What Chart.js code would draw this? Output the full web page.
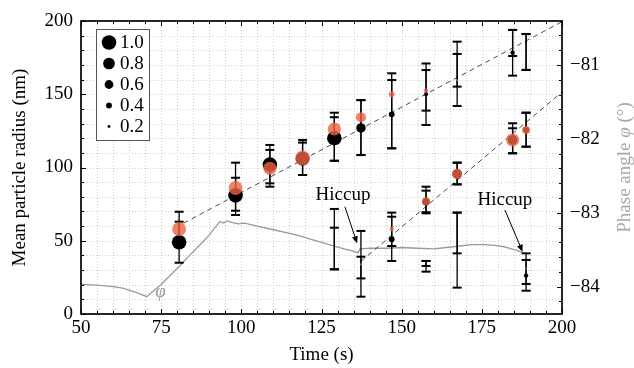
<!DOCTYPE html>
<html><head><meta charset="utf-8">
<script src="https://cdn.jsdelivr.net/npm/chart.js@4"></script>
<style>html,body{margin:0;padding:0;background:#fff}#wrap{width:634px;height:368px;position:relative}</style>
</head><body><div id="wrap"><canvas id="c"></canvas></div>
<script>
// ---------------- data ----------------
const xTickLabels = [50, 75, 100, 125, 150, 175, 200];
const yTickLabels = [0, 50, 100, 150, 200];
const phaseTickLabels = [-84, -83, -82, -81];

const timeBlack   = [80.6, 98.2, 108.9, 119.1, 129, 137.3, 146.9, 157.6, 167.3, 184.6, 188.8, 129, 137.3, 146.9, 157.6, 157.6, 167.3, 167.3, 184.6, 188.8, 188.8];
const radiusBlack = [49, 81, 102, 106, 120, 127, 136.3, 150, 165, 178.4, 186, 50, 25, 51, 76.7, 32, 95.6, 40, 118.8, 125.6, 26.2];
const weightBlack = [1.0, 1.0, 1.0, 0.95, 1.0, 0.65, 0.4, 0.28, 0, 0.3, 0.15, 0, 0, 0.4, 0.5, 0, 0.65, 0, 0.65, 0.4, 0.3];
const lowBlack    = [35, 67.6, 89.2, 94.9, 104.6, 108.5, 113.1, 138.8, 155.2, 162.7, 166.6, 30.5, 11.8, 36.2, 68.7, 28.9, 88.5, 18, 109.7, 114.2, 15.9];
const highBlack   = [63, 93, 115.4, 117, 134.3, 146, 159.7, 166.5, 185.9, 193.9, 191.1, 71.7, 39.1, 66.4, 84.2, 36.2, 103.3, 69.2, 126.8, 137.4, 36.9];

const timeOrange   = [80.6, 98.2, 108.9, 119.1, 129, 137.3, 146.9, 157.6, 167.3, 184.6, 188.8, 129, 137.3, 146.9, 157.6, 157.6, 167.3, 167.3, 184.6, 188.8, 188.8];
const radiusOrange = [58, 86, 99.5, 106.5, 126.3, 134.3, 150, 152.5, 159.7, 185, 186, 45, 33.9, 58, 77, 34, 95.6, 55, 118.8, 125.6, 31];
const weightOrange = [0.95, 0.95, 0.9, 1.0, 0.9, 0.7, 0.4, 0.3, 0.15, 0, 0, 0, 0.15, 0.3, 0.55, 0, 0.7, 0, 0.9, 0.55, 0.12];
const lowOrange    = [46, 70.5, 86.9, 94.9, 104.6, 108.5, 113.1, 129, 142, 176.1, 166.6, 30.5, 24.3, 46.4, 69.5, 32.8, 88.5, 41.4, 109.7, 114.2, 20.5];
const highOrange   = [69.8, 103.3, 112, 118.8, 137.4, 146, 164.3, 171, 177.5, 193.9, 191.1, 58.9, 56.7, 69.2, 86.9, 36.2, 103.3, 69.2, 130.2, 137.4, 41.4];

const fitUpperTime = [82, 200];
const fitUpperRadius = [62, 199.5];
const fitLowerTime = [137.3, 200];
const fitLowerRadius = [36, 151.5];

const phaseTime  = [50, 55, 60, 63, 66, 68, 70.5, 72, 75, 78, 81, 84, 87, 90, 92, 93.3, 94.5, 95.5, 97, 99, 101, 103, 106, 110, 114, 118, 121, 125, 129, 132, 134, 136.4, 137, 140, 145, 150, 155, 160, 164, 168, 172, 176, 179, 182, 185, 188];
const phaseAngle = [-83.97, -83.98, -84.00, -84.02, -84.06, -84.09, -84.135, -84.08, -83.97, -83.84, -83.71, -83.57, -83.44, -83.30, -83.19, -83.12, -83.14, -83.11, -83.13, -83.15, -83.14, -83.16, -83.19, -83.23, -83.27, -83.31, -83.35, -83.40, -83.45, -83.49, -83.51, -83.54, -83.49, -83.48, -83.48, -83.47, -83.48, -83.49, -83.47, -83.45, -83.43, -83.43, -83.44, -83.46, -83.50, -83.54];

const legendWeights = [1.0, 0.8, 0.6, 0.4, 0.2];
const legendLabels = ['1.0', '0.8', '0.6', '0.4', '0.2'];

const hiccupNotes = [
  {text: 'Hiccup', tx: 131.7, ty: 81.2, fx: 132.3, fy: 73.2, ax: 136.1, ay: 48.3},
  {text: 'Hiccup', tx: 182.2, ty: 77.8, fx: 182.2, fy: 71.0, ax: 187.7, ay: 42.5}
];
const phiLabel = {text: '\u03C6', t: 74.8, r: 15.2};

// ---------------- style ----------------
const SERIF = "'Liberation Serif', 'Times New Roman', serif";
const FS = 19;
const ORANGE = 'rgba(238, 98, 68, 0.8)';
const GRAY = '#9a9a9a';
const SIZE_SCALE = 7.3;

function points(ts, rs) { return ts.map((t, i) => ({x: t, y: rs[i]})); }
function bars(ts, lo, hi) {
  const out = [];
  ts.forEach((t, i) => { out.push({x: t, y: lo[i]}, {x: t, y: hi[i]}, {x: t, y: null}); });
  return out;
}
function errDataset(ts, lo, hi, order) {
  return {
    type: 'line', data: bars(ts, lo, hi), yAxisID: 'y',
    borderColor: '#000', borderWidth: 1.3, spanGaps: false,
    pointStyle: 'line', pointRadius: 4.5, pointBorderWidth: 2, pointBorderColor: '#000',
    pointHoverRadius: 4.5, order
  };
}

const overlay = {
  id: 'overlay',
  beforeDatasetsDraw(chart) {
    const {ctx, chartArea: a, scales: {x, y}} = chart;
    ctx.save();
    ctx.strokeStyle = '#cfcfcf';
    ctx.lineWidth = 1;
    ctx.setLineDash([1, 2]);
    ctx.beginPath();
    for (let v = x.min + 5; v < x.max; v += 5) {
      const p = Math.round(x.getPixelForValue(v)) + 0.5;
      ctx.moveTo(p, a.top); ctx.lineTo(p, a.bottom);
    }
    for (let v = y.min + 10; v < y.max; v += 10) {
      const p = Math.round(y.getPixelForValue(v)) + 0.5;
      ctx.moveTo(a.left, p); ctx.lineTo(a.right, p);
    }
    ctx.stroke();
    ctx.restore();
  },
  afterDatasetsDraw(chart) {
    const {ctx, chartArea: a, scales: {x, y, y2}} = chart;
    ctx.save();
    // inward ticks
    ctx.strokeStyle = '#000';
    ctx.lineWidth = 1;
    ctx.beginPath();
    for (let v = x.min; v <= x.max + 1e-6; v += 5) {
      const p = Math.round(x.getPixelForValue(v)) + 0.5;
      const L = (v % 25 === 0) ? 5 : 3;
      ctx.moveTo(p, a.bottom); ctx.lineTo(p, a.bottom - L);
      ctx.moveTo(p, a.top); ctx.lineTo(p, a.top + L);
    }
    for (let v = y.min; v <= y.max + 1e-6; v += 10) {
      const p = Math.round(y.getPixelForValue(v)) + 0.5;
      const L = (v % 50 === 0) ? 5 : 3;
      ctx.moveTo(a.left, p); ctx.lineTo(a.left + L, p);
    }
    for (let v = -84.2; v <= y2.max; v += 0.2) {
      const p = Math.round(y2.getPixelForValue(v)) + 0.5;
      const L = Math.abs(v - Math.round(v)) < 1e-6 ? 5 : 3;
      ctx.moveTo(a.right, p); ctx.lineTo(a.right - L, p);
    }
    ctx.stroke();
    // frame
    ctx.lineWidth = 1.7;
    ctx.strokeRect(a.left, a.top, a.right - a.left, a.bottom - a.top);

    // legend
    const bx = a.left + 15, by = a.top + 8, bw = 53, bh = 111;
    ctx.fillStyle = '#fff';
    ctx.fillRect(bx, by, bw, bh);
    ctx.lineWidth = 1;
    ctx.strokeStyle = '#555';
    ctx.strokeRect(bx + 0.5, by + 0.5, bw, bh);
    ctx.font = FS + 'px ' + SERIF;
    ctx.textBaseline = 'middle';
    ctx.textAlign = 'left';
    legendWeights.forEach((w, i) => {
      const cy = by + 13.5 + i * 21;
      ctx.fillStyle = '#000';
      ctx.beginPath();
      ctx.arc(bx + 13, cy, SIZE_SCALE * w, 0, Math.PI * 2);
      ctx.fill();
      ctx.fillText(legendLabels[i], bx + 24, cy + 1);
    });

    // hiccup notes
    ctx.strokeStyle = '#000';
    ctx.fillStyle = '#000';
    ctx.lineWidth = 1;
    ctx.textAlign = 'center';
    hiccupNotes.forEach(n => {
      ctx.fillText(n.text, x.getPixelForValue(n.tx), y.getPixelForValue(n.ty));
      const x1 = x.getPixelForValue(n.fx), y1 = y.getPixelForValue(n.fy);
      const x2 = x.getPixelForValue(n.ax), y2p = y.getPixelForValue(n.ay);
      const ang = Math.atan2(y2p - y1, x2 - x1);
      ctx.beginPath();
      ctx.moveTo(x1, y1);
      ctx.lineTo(x2 - 5 * Math.cos(ang), y2p - 5 * Math.sin(ang));
      ctx.stroke();
      ctx.beginPath();
      ctx.moveTo(x2, y2p);
      ctx.lineTo(x2 - 7 * Math.cos(ang) + 3 * Math.sin(ang), y2p - 7 * Math.sin(ang) - 3 * Math.cos(ang));
      ctx.lineTo(x2 - 7 * Math.cos(ang) - 3 * Math.sin(ang), y2p - 7 * Math.sin(ang) + 3 * Math.cos(ang));
      ctx.closePath();
      ctx.fill();
    });
    // phi label
    ctx.fillStyle = GRAY;
    ctx.font = 'italic ' + FS + 'px ' + SERIF;
    ctx.fillText(phiLabel.text, x.getPixelForValue(phiLabel.t), y.getPixelForValue(phiLabel.r));

    // right axis title (reads bottom to top)
    ctx.translate(625, (a.top + a.bottom) / 2);
    ctx.rotate(-Math.PI / 2);
    const parts = [['Phase angle ', FS + 'px ' + SERIF], ['\u03C6', 'italic ' + FS + 'px ' + SERIF], [' (\u00B0)', FS + 'px ' + SERIF]];
    let total = 0;
    parts.forEach(p => { ctx.font = p[1]; total += ctx.measureText(p[0]).width; });
    let cx = -total / 2;
    ctx.textAlign = 'left';
    ctx.fillStyle = '#a8a8a8';
    parts.forEach(p => { ctx.font = p[1]; ctx.fillText(p[0], cx, 0); cx += ctx.measureText(p[0]).width; });
    ctx.restore();
  }
};

const tickFont = {family: SERIF, size: FS};

new Chart(document.getElementById('c'), {
  type: 'scatter',
  data: {
    datasets: [
      {
        type: 'scatter', label: 'orange', data: points(timeOrange, radiusOrange), yAxisID: 'y',
        backgroundColor: ORANGE, borderWidth: 0,
        pointRadius: c => SIZE_SCALE * weightOrange[c.dataIndex],
        pointHoverRadius: c => SIZE_SCALE * weightOrange[c.dataIndex], order: 1
      },
      {
        type: 'scatter', label: 'black', data: points(timeBlack, radiusBlack), yAxisID: 'y',
        backgroundColor: '#000', borderWidth: 0,
        pointRadius: c => SIZE_SCALE * weightBlack[c.dataIndex],
        pointHoverRadius: c => SIZE_SCALE * weightBlack[c.dataIndex], order: 2
      },
      errDataset(timeBlack, lowBlack, highBlack, 3),
      errDataset(timeOrange, lowOrange, highOrange, 4),
      {
        type: 'line', data: points(fitUpperTime, fitUpperRadius), yAxisID: 'y',
        borderColor: '#4a4a4a', borderWidth: 1, borderDash: [5, 4], pointRadius: 0, order: 5
      },
      {
        type: 'line', data: points(fitLowerTime, fitLowerRadius), yAxisID: 'y',
        borderColor: '#4a4a4a', borderWidth: 1, borderDash: [5, 4], pointRadius: 0, order: 5
      },
      {
        type: 'line', data: points(phaseTime, phaseAngle), yAxisID: 'y2',
        borderColor: GRAY, borderWidth: 1.3, pointRadius: 0, tension: 0, order: 6
      }
    ]
  },
  options: {
    responsive: true, maintainAspectRatio: false, animation: false,
    layout: {padding: {top: 21, left: 0, right: 0, bottom: 0}},
    plugins: {legend: {display: false}, tooltip: {enabled: false}},
    events: [],
    scales: {
      x: {
        type: 'linear', position: 'bottom', min: 50, max: 200,
        afterBuildTicks: s => { s.ticks = xTickLabels.map(v => ({value: v})); },
        ticks: {font: tickFont, color: '#000', padding: 3, maxRotation: 0, autoSkip: false},
        grid: {display: false, drawTicks: false}, border: {display: false},
        title: {display: true, text: 'Time (s)', font: tickFont, color: '#000', padding: {top: 0, bottom: 1.6}},
        afterFit: s => { s.height = 54; }
      },
      y: {
        type: 'linear', position: 'left', min: 0, max: 200,
        afterBuildTicks: s => { s.ticks = yTickLabels.map(v => ({value: v})); },
        ticks: {font: tickFont, color: '#000', padding: 8},
        grid: {display: false, drawTicks: false}, border: {display: false},
        title: {display: true, text: 'Mean particle radius (nm)', font: tickFont, color: '#000', padding: {top: 8.6, bottom: 0}},
        afterFit: s => { s.width = 81; }
      },
      y2: {
        type: 'linear', position: 'right', min: -84.37, max: -80.405,
        afterBuildTicks: s => { s.ticks = phaseTickLabels.map(v => ({value: v})); },
        ticks: {font: tickFont, color: '#000', padding: 8,
          callback: v => '\u2212' + Math.abs(Math.round(v))},
        grid: {display: false, drawTicks: false}, border: {display: false},
        afterFit: s => { s.width = 72; }
      }
    }
  },
  plugins: [overlay]
});
</script>
</body></html>
